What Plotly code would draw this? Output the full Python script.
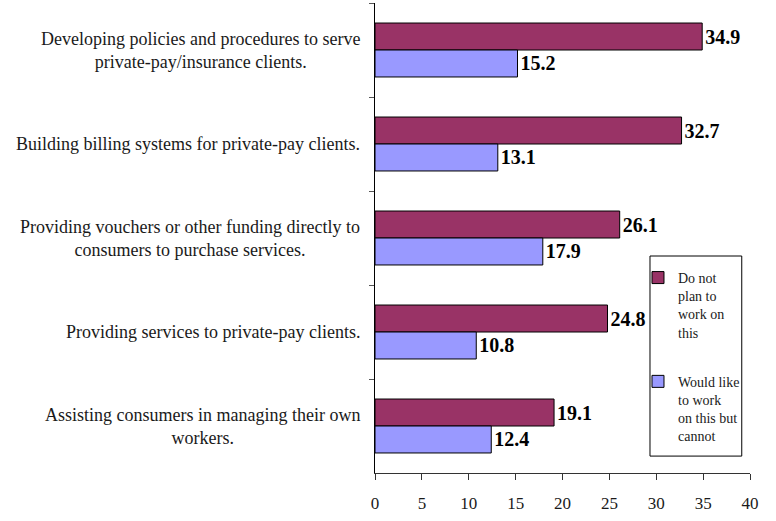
import plotly.graph_objects as go

categories = [
    "Developing policies and procedures to serve<br>private-pay/insurance clients.",
    "Building billing systems for private-pay clients.",
    "Providing vouchers or other funding directly to<br>consumers to purchase services.",
    "Providing services to private-pay clients.",
    "Assisting consumers in managing their own<br>workers.",
]
cat_keys = ["c1", "c2", "c3", "c4", "c5"]
do_not_plan = [34.9, 32.7, 26.1, 24.8, 19.1]
would_like = [15.2, 13.1, 17.9, 10.8, 12.4]
series_names = ["Do not<br>plan to<br>work on<br>this", "Would like<br>to work<br>on this but<br>cannot"]
x_ticks = [0, 5, 10, 15, 20, 25, 30, 35, 40]

SERIF = "Liberation Serif, Times New Roman, serif"
colors = ["#993366", "#9999FF"]

fig = go.Figure()
for i, (vals, name) in enumerate([(do_not_plan, series_names[0]), (would_like, series_names[1])]):
    fig.add_trace(go.Bar(
        y=cat_keys, x=vals, orientation="h", name=name,
        legendgroup=f"g{i}",
        marker=dict(color=colors[i], line=dict(color="#000000", width=1)),
        text=[f"{v:.1f}" for v in vals], textposition="outside",
        constraintext="none", cliponaxis=False,
        textfont=dict(family=SERIF, size=20, color="#000000", weight="bold"),
    ))

for key, label in zip(cat_keys, categories):
    fig.add_annotation(
        x=-0.0347, xref="paper", y=key, yref="y", text=label,
        xanchor="right", yanchor="middle", align="center", showarrow=False,
        font=dict(family=SERIF, size=18, color="#1a1a1a"),
    )

fig.add_shape(type="rect", xref="paper", yref="paper",
              x0=0.7333, x1=0.978, y0=0.036, y1=0.4617,
              line=dict(color="#000000", width=1), fillcolor="rgba(0,0,0,0)")

fig.update_layout(
    width=776, height=521,
    margin=dict(l=375, r=26, t=3, b=48),
    paper_bgcolor="white", plot_bgcolor="white",
    barmode="group", bargap=0.426, bargroupgap=0,
    font=dict(family=SERIF, color="#000000"),
    legend=dict(
        x=0.7013, y=0.449, xanchor="left", yanchor="top",
        bgcolor="rgba(0,0,0,0)", borderwidth=0,
        font=dict(family=SERIF, size=14, color="#1a1a1a"),
        valign="top", tracegroupgap=28, itemwidth=30,
    ),
    xaxis=dict(
        range=[0, 40], tickvals=x_ticks, ticktext=[str(t) for t in x_ticks],
        showgrid=False, zeroline=False, showline=True, linecolor="#333333", linewidth=1,
        ticks="outside", ticklen=6, tickcolor="#333333",
        tickfont=dict(family=SERIF, size=17, color="#1a1a1a"),
        ticklabelstandoff=9,
    ),
    yaxis=dict(
        range=[4.5, -0.5], type="category", categoryarray=cat_keys,
        showgrid=False, zeroline=False, showline=True, linecolor="#000000", linewidth=1,
        ticks="outside", ticklen=5, tickcolor="#555555", tickson="boundaries",
        showticklabels=False,
    ),
)

fig.write_html("out.html", config={"displayModeBar": False},
               post_script="document.body.style.margin='0';document.body.style.padding='0';")
